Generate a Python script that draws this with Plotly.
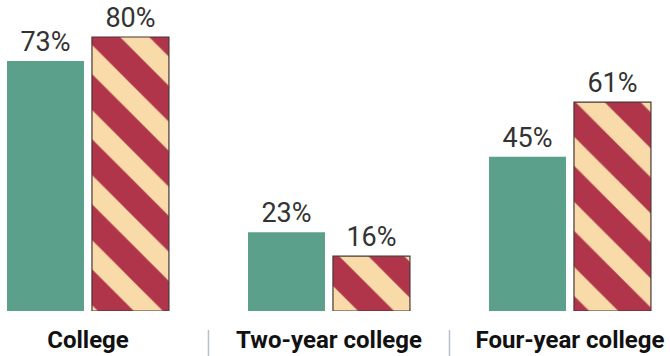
import plotly.graph_objects as go

categories = ["College", "Two-year college", "Four-year college"]
series_a = [73, 23, 45]
series_b = [80, 16, 61]
labels_a = [f"{v}%" for v in series_a]
labels_b = [f"{v}%" for v in series_b]

value_font = dict(family="Roboto", size=27, color="#333333")

fig = go.Figure()
fig.add_trace(go.Bar(
    x=categories, y=series_a, text=labels_a, textposition="outside",
    marker=dict(color="#5ba08a", line=dict(width=0)),
    textfont=value_font, cliponaxis=False, showlegend=False,
))
fig.add_trace(go.Bar(
    x=categories, y=series_b, text=labels_b, textposition="outside",
    marker=dict(color="#f8dba9",
                line=dict(width=1.2, color="#4a3535"),
                pattern=dict(shape="\\", fgcolor="#b0344a", bgcolor="#f8dba9",
                             size=46, solidity=0.55, fillmode="replace")),
    textfont=value_font, cliponaxis=False, showlegend=False,
))

for xs in [0.5, 1.5]:
    fig.add_shape(type="line", xref="x", yref="paper", x0=xs, x1=xs,
                  y0=-0.061, y1=-0.15, line=dict(color="#b4c2d0", width=1.5))

fig.update_layout(
    width=670, height=356,
    margin=dict(l=0, r=0, t=0, b=45, autoexpand=False),
    paper_bgcolor="white", plot_bgcolor="white",
    barmode="group", bargap=0.295, bargroupgap=0.094,
    xaxis=dict(range=[-0.365, 2.415], showgrid=False, showline=False, zeroline=False,
               ticks="", ticklabelstandoff=12, automargin=False,
               tickfont=dict(family="Roboto", size=24, color="#111111", weight="bold")),
    yaxis=dict(range=[0, 90.8], visible=False),
)

fig.write_html("out.html", config={"displayModeBar": False},
               post_script="document.body.style.margin='0';")
